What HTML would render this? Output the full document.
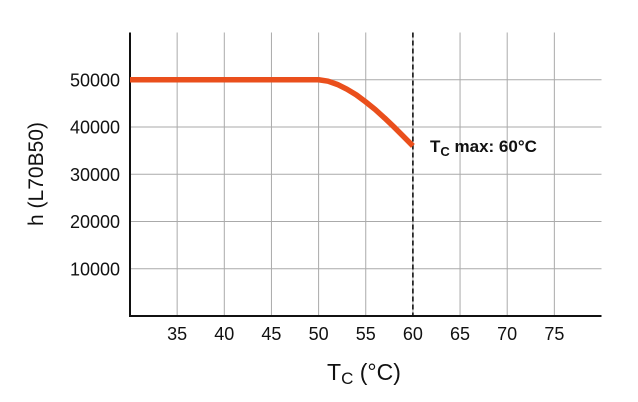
<!DOCTYPE html>
<html><head><meta charset="utf-8"><style>
html,body{margin:0;padding:0;background:#fff;}
svg{display:block;font-family:"Liberation Sans",Arial,sans-serif;}
</style></head><body>
<svg id="chart" width="638" height="402" viewBox="0 0 638 402">
<g id="grid"></g>
<g id="axes"></g>
<g id="series"></g>
<text x="43" y="174" font-size="21" text-anchor="middle" transform="rotate(-90 43 174)" fill="#111">h (L70B50)</text>
<text x="327" y="380" font-size="23" fill="#111">T<tspan font-size="17" dy="4">C</tspan><tspan dy="-4"> (°C)</tspan></text>
<text x="430" y="152" font-size="17" font-weight="bold" fill="#111">T<tspan font-size="13" dy="4">C</tspan><tspan dy="-4"> max: 60°C</tspan></text>
</svg>
<script>
const xTicks=[35,40,45,50,55,60,65,70,75];
const yTicks=[10000,20000,30000,40000,50000];
const yTickLabels=["10000","20000","30000","40000","50000"];
const curveX=[30,50,51,52,53,54,55,56,57,58,59,60];
const curveY=[50000,50000,49700,49000,48000,46800,45300,43700,41900,40000,38000,36000];
const tcMax=60;
const NS="http://www.w3.org/2000/svg";
const L=130,R=601.5,T=32.5,B=316;
const xMin=30,xMax=80,yMin=0,yMax=60000;
const sx=v=>L+(v-xMin)/(xMax-xMin)*(R-L);
const sy=v=>B-(v-yMin)/(yMax-yMin)*(B-T);
function mk(tag,attrs,parent){const e=document.createElementNS(NS,tag);for(const k in attrs)e.setAttribute(k,attrs[k]);parent.appendChild(e);return e;}
const grid=document.getElementById('grid'),axes=document.getElementById('axes'),series=document.getElementById('series');
xTicks.forEach(v=>{
 const l=mk('line',{x1:sx(v),x2:sx(v),y1:T,y2:B,stroke:'#aaa','stroke-width':1},grid);
 
 
 const t=mk('text',{x:sx(v),y:340,'font-size':18,'text-anchor':'middle',fill:'#111'},axes);
 t.textContent=v;
 
 
});
yTicks.forEach((v,i)=>{
 const l=mk('line',{x1:L,x2:R,y1:sy(v),y2:sy(v),stroke:'#aaa','stroke-width':1},grid);
 
 
 const t=mk('text',{x:120,y:sy(v)+6.5,'font-size':18,'text-anchor':'end',fill:'#111'},axes);
 t.textContent=yTickLabels[i];
 
 
});
const ya=mk('line',{x1:L,x2:L,y1:T,y2:B+1,stroke:'#111','stroke-width':2},axes);


const xa=mk('line',{x1:L-1,x2:R,y1:B,y2:B,stroke:'#111','stroke-width':2},axes);


const d=mk('line',{x1:sx(tcMax),x2:sx(tcMax),y1:T,y2:B,stroke:'#111','stroke-width':1.6,'stroke-dasharray':'5,3'},series);


const p=mk('polyline',{points:curveX.map((x,i)=>sx(x)+','+sy(curveY[i])).join(' '),fill:'none',stroke:'#ea4f1c','stroke-width':5.5,'stroke-linejoin':'round'},series);


</script>
</body></html>
